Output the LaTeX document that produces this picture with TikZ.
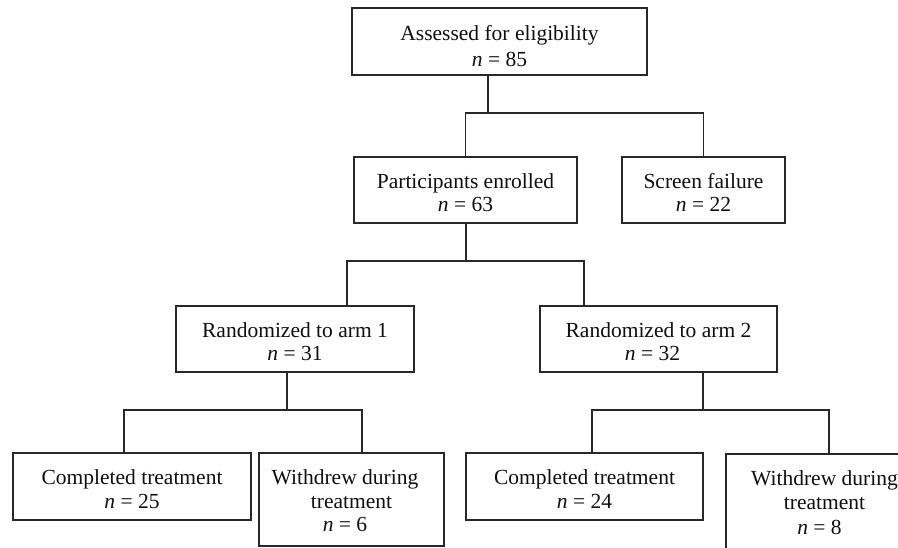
\documentclass[tikz,border=0pt]{standalone}
\usepackage{fontspec}
\setmainfont{Liberation Serif}
\definecolor{linec}{RGB}{40,40,40}
\definecolor{textc}{RGB}{15,15,15}
\newcommand{\dn}[1]{\rule{0pt}{#1}}
\newcommand{\lf}{\hspace*{13pt}}
\begin{document}
\begin{tikzpicture}[x=1pt,y=-1pt,
  box/.style={draw=linec, line width=1.2pt, rectangle, inner sep=0pt, align=center,
    text=textc, font=\fontsize{21.5pt}{23.5pt}\selectfont},
  conn/.style={draw=linec, line width=1.2pt}]
\path[use as bounding box] (0,0) rectangle (898,548);
\clip (0,0) rectangle (898,548);
\fill[white] (0,0) rectangle (898,548);
% boxes
\node[box, minimum width=295pt, minimum height=67pt,
  font=\fontsize{21.5pt}{26.5pt}\selectfont] (a) at (499.5,41.5) {\dn{24pt}Assessed for eligibility\\\textit{n} = 85};
\node[box, minimum width=223pt, minimum height=66pt] (pe) at (465.5,190) {\dn{20pt}Participants enrolled\\\textit{n} = 63};
\node[box, minimum width=163pt, minimum height=66pt] (sf) at (703.5,190) {\dn{20pt}Screen failure\\\textit{n} = 22};
\node[box, minimum width=238pt, minimum height=66pt] (r1) at (295,339) {\dn{20pt}Randomized to arm 1\\\textit{n} = 31};
\node[box, minimum width=237pt, minimum height=66pt] (r2) at (658.5,339) {\dn{20pt}Randomized to arm 2\\\textit{n} = 32\hspace*{12pt}};
\node[box, minimum width=238pt, minimum height=67pt] (c1) at (132,486.5) {\dn{20pt}Completed treatment\\\textit{n} = 25};
\node[box, minimum width=185pt, minimum height=93pt] (w1) at (351.5,499.5) {\dn{18pt}Withdrew during\lf\\treatment\lf\\\textit{n} = 6\lf};
\node[box, minimum width=197pt, minimum height=98pt] (w2) at (824.5,503) {\dn{10pt}Withdrew during\\treatment\\[2pt]\textit{n} = 8\hspace*{10pt}};
\node[box, minimum width=237pt, minimum height=67pt] (c2) at (584.5,486.5) {\dn{20pt}Completed treatment\\\textit{n} = 24};
% connectors
\coordinate (b1) at (488,113);
\draw[conn] (a.south -| b1) -- (b1);
\draw[conn] (pe.north) |- (b1) -| (sf.north);
\coordinate (b2) at (466,261);
\coordinate (b2l) at (347,0);
\coordinate (b2r) at (584,0);
\draw[conn] (pe.south -| b2) -- (b2);
\draw[conn] (r1.north -| b2l) |- (b2) -| (r2.north -| b2r);
\coordinate (b3) at (287,410);
\coordinate (b3l) at (124,0);
\coordinate (b3r) at (362,0);
\draw[conn] (r1.south -| b3) -- (b3);
\draw[conn] (c1.north -| b3l) |- (b3) -| (w1.north -| b3r);
\coordinate (b4) at (703,410);
\coordinate (b4l) at (592,0);
\coordinate (b4r) at (829,0);
\draw[conn] (r2.south -| b4) -- (b4);
\draw[conn] (c2.north -| b4l) |- (b4) -| (w2.north -| b4r);
\end{tikzpicture}
\end{document}
